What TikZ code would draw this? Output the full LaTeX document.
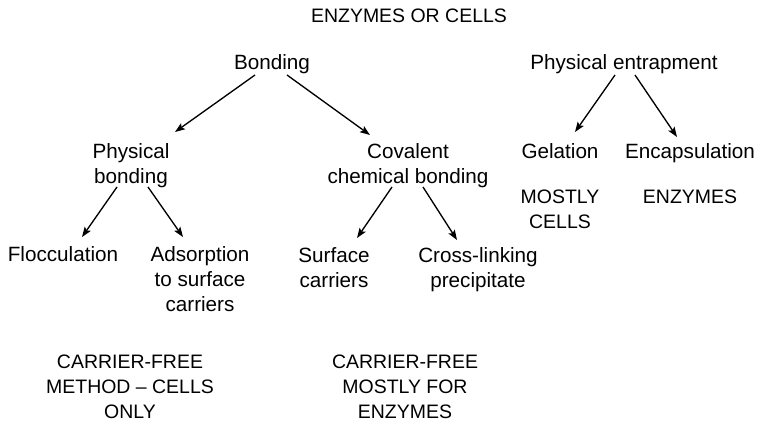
\documentclass[tikz,border=0pt]{standalone}
\usepackage{fontspec}
\setmainfont{Liberation Sans}
\usepackage{tikz}
\usetikzlibrary{arrows.meta,calc}

\begin{document}
\begin{tikzpicture}[x=0.75pt, y=-0.75pt, >={Stealth[length=7.5pt,width=5.5pt,inset=1.5pt]}]
        \tikzset{
            lbl/.style={inner sep=0pt, anchor=base, align=center, font=\fontsize{15.5}{18.75}\selectfont},
            caps/.style={inner sep=0pt, anchor=base, align=center, font=\fontsize{14.6}{18.4}\selectfont},
            line/.style={draw, ->, line width=1pt}
        }
        \useasboundingbox (0,0) rectangle (759,424);

        % Top
        \node[caps] (title) at (409, 23) {ENZYMES OR CELLS};
        \node[lbl] (bond) at (272, 70) {Bonding};
        \node[lbl] (ent) at (624, 70) {Physical entrapment};

        % Second level (base = last line)
        \node[lbl] (phys) at (131, 183) {Physical\\bonding};
        \node[lbl] (cov) at (408, 183) {Covalent\\chemical bonding};
        \node[lbl] (gel) at (560, 158) {Gelation};
        \node[lbl] (enc) at (690, 158) {Encapsulation};
        \node[caps] (mcells) at (560, 228) {MOSTLY\\CELLS};
        \node[caps] (enz) at (690, 203) {ENZYMES};

        % Third level
        \node[lbl] (floc) at (63, 261) {Flocculation};
        \node[lbl] (ads) at (200, 311) {Adsorption\\to surface\\carriers};
        \node[lbl] (surf) at (334, 287) {Surface\\carriers};
        \node[lbl] (cross) at (478, 287) {Cross-linking\\precipitate};

        % Notes at the bottom
        \node[caps] (note1) at (130, 418) {CARRIER-FREE\\METHOD – CELLS\\ONLY};
        \node[caps] (note2) at (405, 418) {CARRIER-FREE\\MOSTLY FOR\\ENZYMES};

        % Arrows
        \path[line] ($(bond.base)+(-17,5)$) -- ($(phys.base)+(44,-51)$);
        \path[line] ($(bond.base)+(15,5)$) -- ($(cov.base)+(-38,-48)$);
        \path[line] ($(phys.base)+(-14,4)$) -- ($(floc.base)+(19,-24)$);
        \path[line] ($(phys.base)+(17,4)$) -- ($(ads.base)+(-17,-74)$);
        \path[line] ($(cov.base)+(-16,4)$) -- ($(surf.base)+(23,-49)$);
        \path[line] ($(cov.base)+(15,4)$) -- ($(cross.base)+(-21,-47)$);
        \path[line] ($(ent.base)+(-9,5)$) -- ($(gel.base)+(15,-26)$);
        \path[line] ($(ent.base)+(11,5)$) -- ($(enc.base)+(-13,-21)$);

    \end{tikzpicture}
\end{document}
